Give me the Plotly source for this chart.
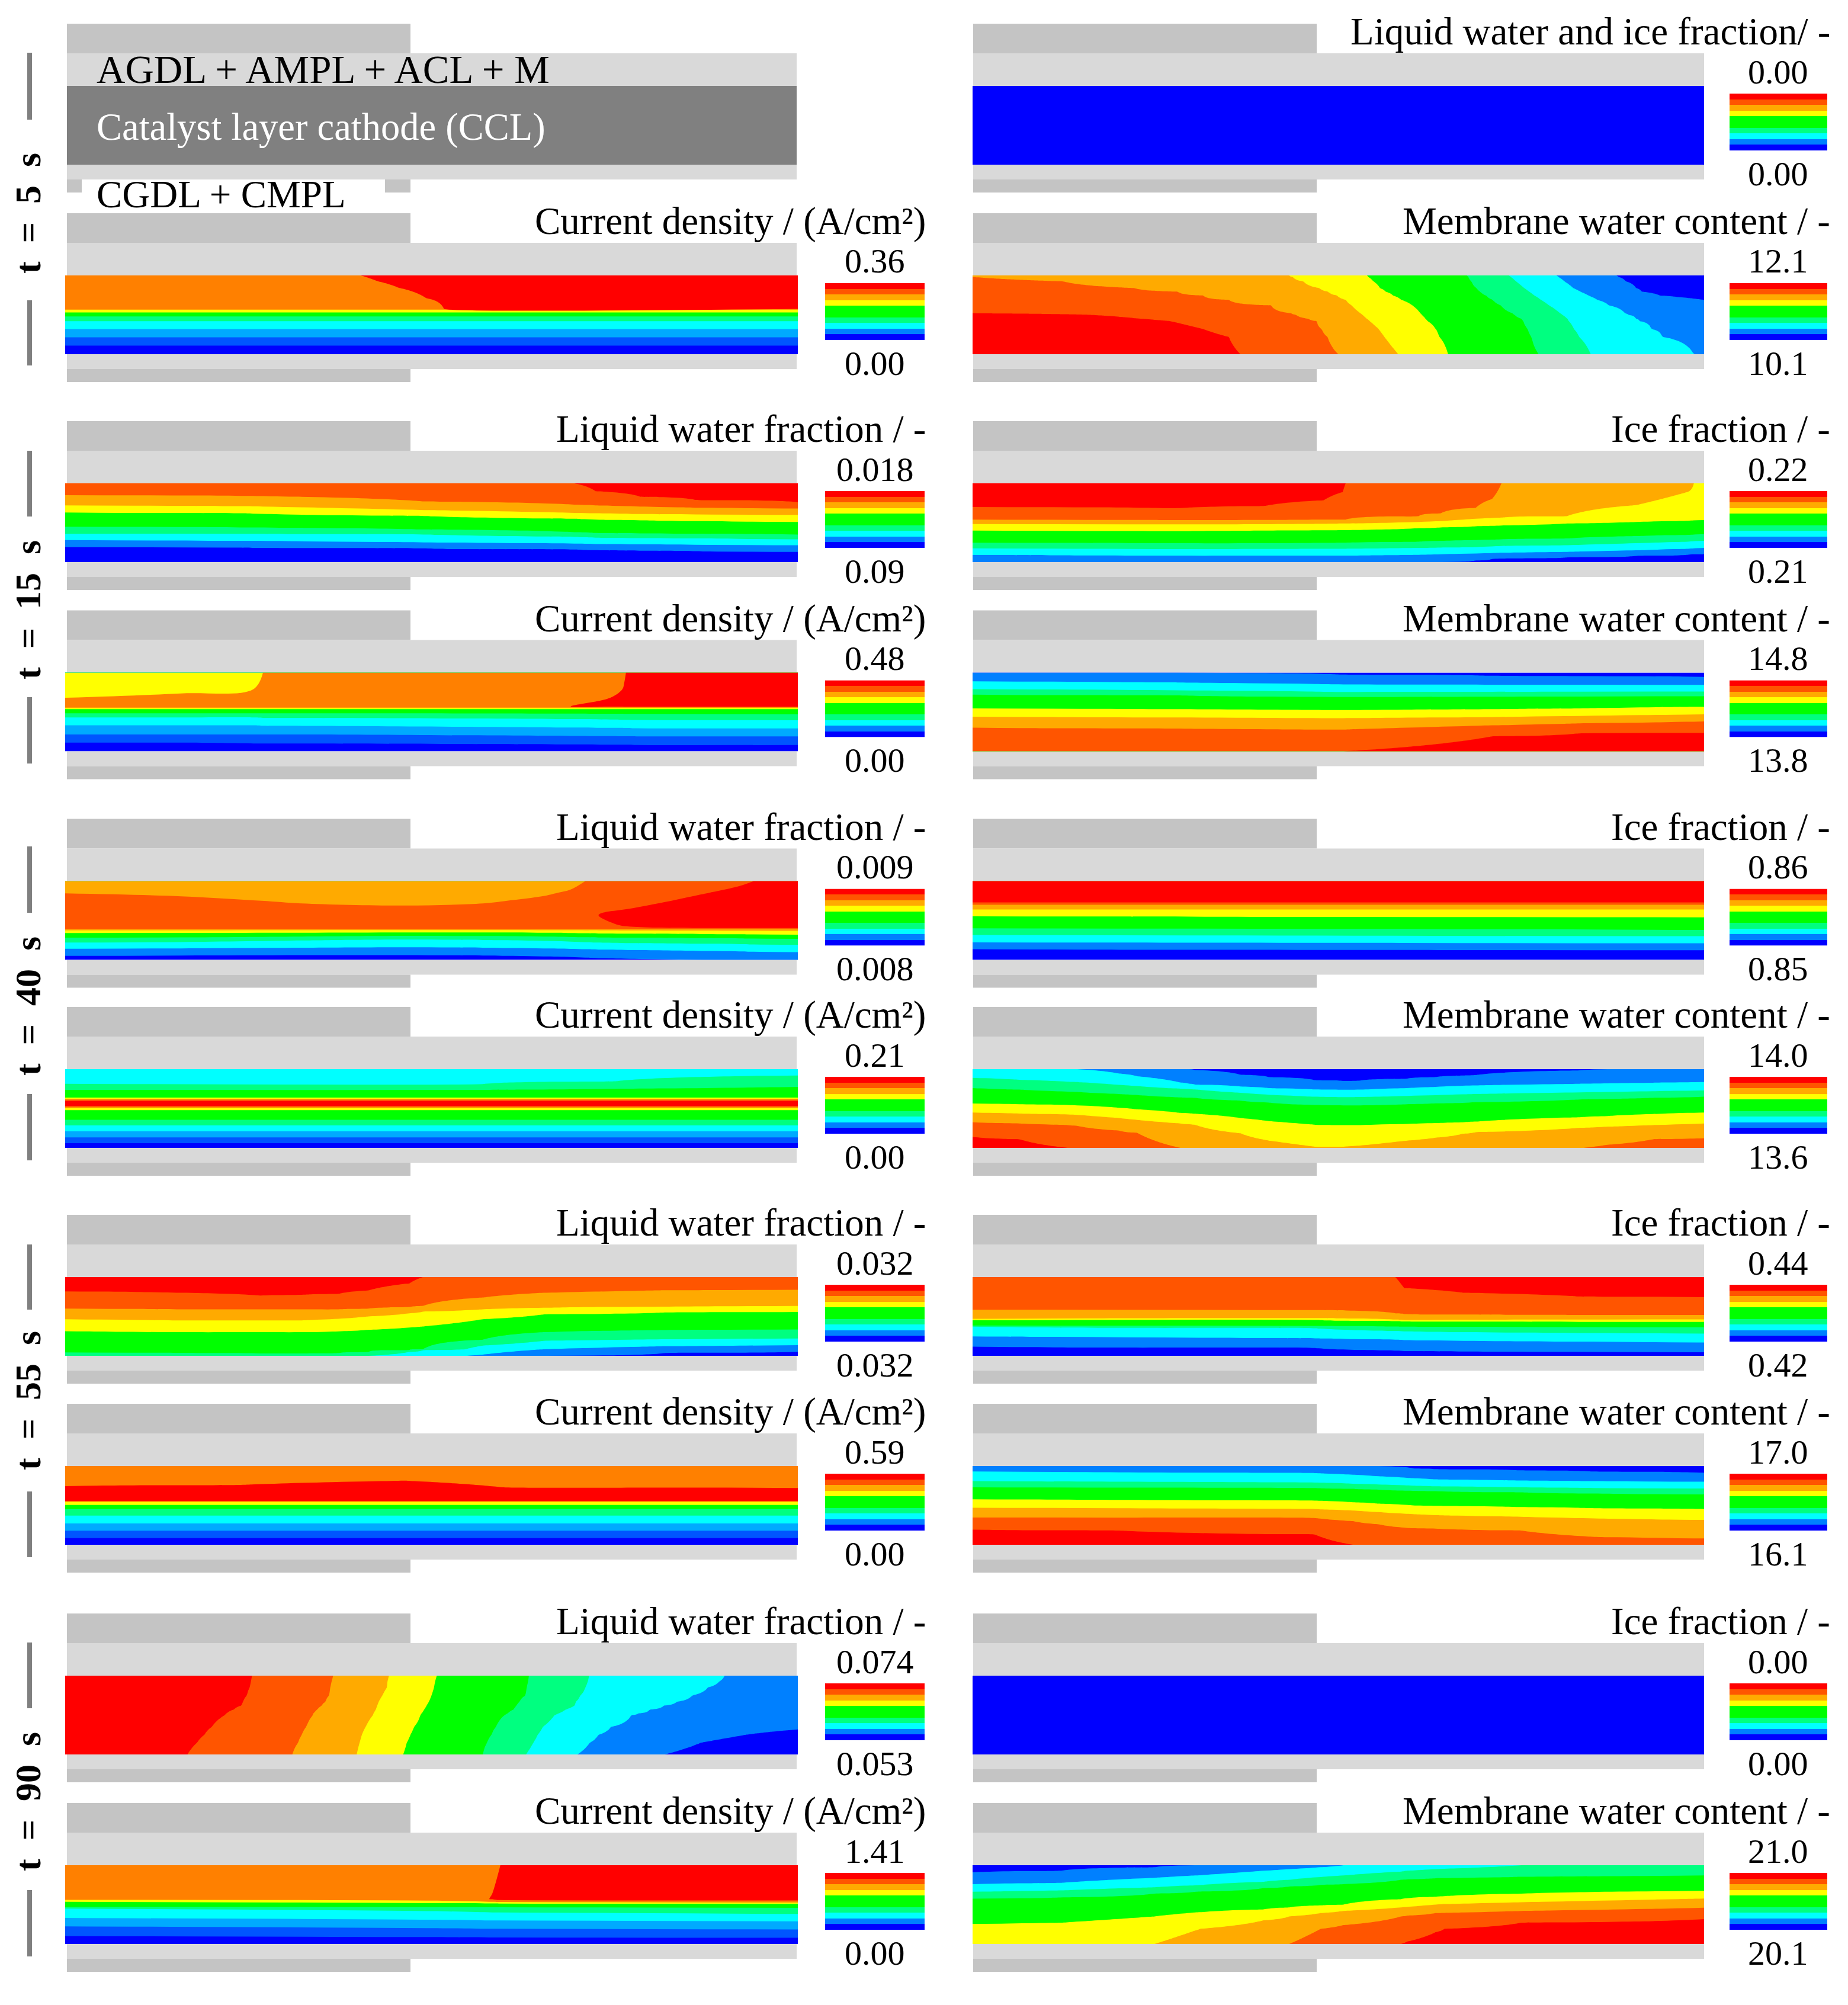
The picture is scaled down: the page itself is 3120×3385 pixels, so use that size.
import numpy as np
import plotly.graph_objects as go

WIDTH, HEIGHT = 3120, 3385
SERIF = "Liberation Serif"

# ---- band colours (bottom to top of each field) ----
BANDS_CURRENT = ["#0000ff", "#0055ff", "#00aaff", "#00ffff", "#00ff80", "#00ff00", "#ffff00", "#ff8000", "#ff0000"]
BANDS_OTHER = ["#0000ff", "#0080ff", "#00ffff", "#00ff80", "#00ff00", "#ffff00", "#ffaa00", "#ff5500", "#ff0000"]
LEGEND_BANDS = [0.5, 1.5, 2.5, 3.5, 4.5, 4.5, 5.5, 6.5, 7.5, 8.5]

# ---- text ----
TIMES = ["t  =  5  s", "t  =  15  s", "t  =  40  s", "t  =  55  s", "t  =  90  s"]
T_LWF = "Liquid water fraction / -"
T_ICE = "Ice fraction / -"
T_CD = "Current density / (A/cm\u00b2)"
T_MEM = "Membrane water content / -"
T_LWI = "Liquid water and ice fraction/ -"

# ---- field readings: x stations in % of length, level contours as depth in % of height ----
LEV_DOWN = [8, 7, 6, 5, 4, 3, 2, 1]
LEV_UP = [1, 2, 3, 4, 5, 6, 7, 8]

blue_x = [0, 100]
blue_y = [0, 100]
blue_z = [[0.5, 0.5], [0.5, 0.5]]

t5_cd_x = [0, 40, 42.7, 45.5, 49.3, 51.7, 100]
t5_cd_depth = [[-8, -1, 7.5, 15.7, 29, 42.5, 42.5], 43.5, 47, 52, 58, 68, 78.5, 89]

# rows in depth %, contours as x % across each row
t5_mem_y = [0, 2, 7.5, 16, 20.6, 25.5, 31, 38, 48, 50, 55, 58, 68, 78, 100]
t5_mem_cross = [
    [-60, -60, -60, -60, -60, -60, -60, -40, 0, 16, 23, 27, 31.5, 35, 36.6],
    [-6, 0, 12.3, 22, 28, 31.5, 35, 40.8, 43.6, 44.2, 45.9, 47, 47.7, 48.5, 50],
    [43.3, 43.8, 45.2, 47.4, 48.6, 49.8, 51, 51.8, 53, 53.3, 53.9, 54.3, 55.5, 56.3, 58.2],
    [53.9, 54.1, 54.8, 55.7, 56.5, 57.5, 58.6, 60.1, 61.2, 61.4, 61.9, 62.2, 63.3, 63.8, 65],
    [67.6, 67.8, 68.2, 68.9, 69.4, 70.2, 71.1, 72.2, 73.8, 74.1, 75, 75.3, 75.9, 76.4, 77.4],
    [73.3, 73.6, 74.3, 75.4, 76.1, 76.8, 77.7, 78.8, 80.3, 80.6, 81.3, 81.5, 82.2, 82.9, 84.5],
    [79.8, 80.1, 80.9, 82.1, 83.1, 84.2, 85.4, 87, 89.2, 89.6, 90.7, 91.2, 92.8, 94.3, 98.6],
    [88, 88.3, 89.3, 90.7, 91.5, 94, 100, 108, 125, 128, 130, 132, 135, 140, 150],
]

t15_lwf_x = [0, 24, 49, 69.5, 72.4, 78.5, 86, 100]
t15_lwf_depth = [
    [-15, -15, -10, 0, 10, 17, 21, 24],
    [15, 16, 23, 27, 28, 29.5, 31, 32],
    [28, 29, 34, 37.5, 38, 39, 39.5, 40],
    [37, 38, 41.5, 45, 46, 47, 48, 49],
    [55, 56, 58.5, 62, 63, 63.5, 64, 65],
    [64, 64, 65, 68, 69, 69.5, 70, 71],
    [72, 73, 75, 76.5, 77, 77.5, 78, 78.5],
    [81, 81.5, 82.5, 84, 84.6, 85.5, 86, 87],
]

t15_ice_x = [0, 28, 40, 48, 50.6, 51, 61, 64, 68.8, 71, 72.3, 81.3, 90.7, 97.8, 98.6, 100]
t15_ice_depth = [
    [30, 31.7, 28.6, 21.5, 11, 0, -10, -10, -10, -10, -10, -10, -10, -10, -10, -10],
    [46, 46.8, 46.5, 46.2, 46, 46, 41.5, 38, 31, 20, 0, -5, -5, -5, -5, -5],
    [51.7, 52, 51.8, 51.3, 51, 51, 49, 48, 45, 44, 43.5, 41.5, 27.7, 10.8, 0, -3],
    [60, 60.6, 60, 59.6, 59.4, 59.4, 57, 56, 54.5, 54, 53.5, 51, 49, 47.5, 47, 46.8],
    [75.4, 76, 76, 75.6, 75.4, 75.4, 74, 73, 72, 71.5, 71, 70, 67, 65.5, 65, 64.6],
    [82.5, 83.4, 83.2, 83, 83, 83, 82, 81.5, 81, 80, 79.5, 78.5, 76, 74, 73.5, 73],
    [90.8, 91.7, 91.7, 91.7, 91.7, 91.7, 90.8, 90, 89, 88.5, 88, 87, 85, 83, 82.5, 82],
    [110, 110, 110, 110, 110, 110, 103, 100, 98, 96, 95.5, 94, 92, 90.5, 90, 90],
]

t15_cd_x = [0, 15.8, 25.7, 27, 30, 69, 74.4, 76.3, 78, 100]
t15_cd_y = [0, 21, 32, 43, 44.5, 46.5, 51.7, 57, 67, 78.5, 89, 100]
t15_cd_z = [
    [6.5, 6.7, 6.95, 7.0, 7.3, 7.6, 7.75, 7.95, 8.3, 8.5],
    [6.5, 6.8, 7.0, 7.1, 7.3, 7.6, 7.8, 8.03, 8.3, 8.5],
    [7.0, 7.2, 7.3, 7.3, 7.4, 7.7, 8.0, 8.2, 8.3, 8.5],
    [7.5, 7.5, 7.5, 7.5, 7.5, 8.0, 8.2, 8.3, 8.3, 8.4],
    [7.0] * 10,
    [6.0] * 10,
    [5, 5, 5, 5, 5, 5.05, 5.1, 5.1, 5.1, 5.2],
    [4, 4, 4, 4.05, 4.05, 4.2, 4.25, 4.3, 4.3, 4.33],
    [3, 3, 3, 3.05, 3.05, 3.25, 3.3, 3.3, 3.35, 3.37],
    [2, 2, 2, 2, 2, 2.2, 2.22, 2.25, 2.25, 2.27],
    [1, 1, 1.05, 1.05, 1.05, 1.12, 1.15, 1.15, 1.18, 1.18],
    [0.5] * 10,
]

t15_mem_x = [0, 28, 50.7, 71, 83, 100]
t15_mem_depth = [
    [-3, 0, 2.5, 4, 4.5, 5.5],
    [11, 12.6, 15, 15.4, 15.5, 15.7],
    [21, 22.5, 24.6, 24.4, 24.2, 24],
    [28, 29, 31, 30.6, 30.3, 30],
    [45.5, 46.5, 47.7, 46.5, 45.5, 43.4],
    [56, 57, 57.8, 56.5, 55, 53],
    [70, 71, 72.3, 67, 64.5, 62],
    [115, 112, 100, 81, 77, 76.3],
]

t40_lwf_x = [0, 15.8, 32.3, 46.4, 57, 65.3, 69, 71, 72.8, 77.7, 86.8, 92, 94, 100]
t40_lwf_y = [0, 15, 25, 35, 43, 55, 59.5, 61, 62.5, 66, 71, 75, 85, 95, 100]
t40_lwf_z = [
    [6.5, 6.5, 6.5, 6.5, 6.5, 6.6, 6.75, 7.0, 7.1, 7.3, 7.6, 7.85, 8.0, 8.3],
    [6.98, 6.85, 6.7, 6.65, 6.7, 6.9, 7.1, 7.25, 7.3, 7.5, 7.95, 8.2, 8.3, 8.4],
    [7.3, 7.2, 6.9, 6.85, 6.9, 7.15, 7.3, 7.4, 7.5, 7.75, 8.2, 8.4, 8.5, 8.5],
    [7.4, 7.4, 7.2, 7.1, 7.2, 7.35, 7.5, 7.6, 7.7, 8.03, 8.4, 8.5, 8.5, 8.5],
    [7.5, 7.5, 7.4, 7.4, 7.45, 7.5, 7.6, 7.75, 8.0, 8.2, 8.5, 8.5, 8.5, 8.5],
    [7.6, 7.6, 7.6, 7.6, 7.6, 7.7, 7.8, 7.9, 7.9, 8.1, 8.4, 8.4, 8.4, 8.4],
    [7.6, 7.6, 7.6, 7.6, 7.6, 7.7, 7.8, 7.85, 7.9, 7.95, 8.0, 8.05, 8.05, 8.1],
    [7.0] * 14,
    [6, 6, 5.9, 5.8, 5.8, 5.9, 5.95, 6, 6, 6.05, 6.1, 6.15, 6.15, 6.2],
    [5, 4.95, 4.9, 4.8, 4.8, 4.9, 5, 5.05, 5.1, 5.15, 5.25, 5.3, 5.35, 5.4],
    [4.17, 4.1, 3.9, 3.7, 3.75, 3.9, 4, 4.05, 4.1, 4.15, 4.25, 4.3, 4.35, 4.4],
    [3.4, 3.3, 3.05, 2.86, 2.95, 3.1, 3.2, 3.3, 3.35, 3.45, 3.55, 3.6, 3.65, 3.7],
    [2.11, 2.05, 1.95, 1.9, 1.95, 2.05, 2.1, 2.15, 2.2, 2.25, 2.35, 2.4, 2.45, 2.5],
    [1, 0.95, 0.9, 0.9, 0.95, 1.05, 1.1, 1.15, 1.2, 1.3, 1.4, 1.45, 1.5, 1.55],
    [0.6, 0.6, 0.55, 0.55, 0.6, 0.7, 0.75, 0.8, 0.85, 0.9, 1, 1.05, 1.05, 1.1],
]

t40_ice_x = [0, 100]
t40_ice_depth = [27, 30, 36, [44.7, 46], [60, 62], [68.5, 70], [77.8, 79], [86.4, 87.6]]

t40_cd_x = [0, 57, 75, 100]
t40_cd_levels = [4, 5, 6, 7, 8, 8.5, 8, 7, 6, 5, 4, 3, 2, 1]
t40_cd_depth = [[18.9, 19, 15.5, 8], [26.3, 26.3, 25, 22.6], 36, 38, 40, 43.7, 47.4, 49, 52, 64.4, 71.5, 79, 86.7, 93.8]

t40_mem_x = [0, 6.4, 13, 14.3, 20, 22.5, 28.4, 29.6, 30.4, 36.6, 40.5, 46.8, 50.7, 53, 59.4, 63.3, 67, 68.8, 83, 86.8, 93, 100]
t40_mem_depth = [
    [-30, -30, -30, -30, -25, -20, -3, 0, 1, 7, 10, 14, 15, 14.5, 12, 10, 8.3, 7.5, 1.5, 0, -2, -3],
    [-10, -6, -1, 0, 5.6, 9, 17, 18.5, 19.5, 22, 24, 25.7, 26.2, 26, 24, 22.5, 21, 20.7, 18.6, 18, 17.3, 16.4],
    [11, 13.5, 16, 16.4, 20, 21.5, 24.8, 25.3, 25.7, 30, 32.5, 35, 35.6, 35.4, 34, 33, 32, 31.6, 29.5, 29, 28, 27],
    [24, 26, 28.5, 29, 31.5, 32.8, 35.8, 36.2, 36.5, 40, 42.5, 45.5, 46, 46, 44.5, 43.5, 42.7, 42, 38.5, 37.7, 36.3, 35],
    [43.6, 44.5, 45.5, 46, 49, 51, 55.5, 56, 56.7, 62, 66, 70.6, 71, 71, 69.5, 68.5, 67.5, 66.7, 61, 59.5, 57, 55],
    [55, 56.3, 57.5, 58, 62, 64.5, 69, 70, 70.6, 81.4, 90.7, 98.5, 98.5, 97, 90.7, 87, 82, 80, 74.5, 73, 71, 69],
    [67.5, 69, 71, 72, 78, 80.8, 100, 105, 108, 120, 120, 120, 120, 120, 120, 120, 118, 115, 100.5, 96, 89, 87.6],
    [86, 89, 100, 103, 125, 130, 130, 130, 130, 130, 130, 130, 130, 130, 130, 130, 130, 130, 130, 130, 130, 130],
]

t55_lwf_x = [0, 15.8, 26.6, 32.3, 37.3, 41.4, 47, 48.8, 57, 65.3, 82, 100]
t55_lwf_depth = [
    [18.3, 20, 23.5, 22.5, 21.4, 17, 8, 0, -5, -5, -5, -5],
    [40, 41, 41, 41, 41, 40, 38, 36.7, 26, 20, 16.8, 16.2],
    [53.5, 55, 55, 55, 53, 50, 46, 44, 41, 39, 37.6, 36.7],
    [68.8, 70, 70, 70, 69, 67, 64, 62.7, 53.5, 47.4, 45, 44.3],
    [95.7, 96.3, 97, 97, 96.5, 95, 92.5, 91.7, 79.5, 70, 67.3, 66.7],
    [104, 104, 104, 103, 102, 100, 95, 93, 87, 81, 79, 78],
    [125, 125, 125, 120, 118, 115, 106, 104, 98.5, 91.7, 87.8, 86.5],
    [140, 140, 140, 140, 140, 140, 130, 125, 110, 100, 96.3, 94.8],
]

t55_ice_x = [0, 46.8, 57.8, 59, 67.2, 82.9, 100]
t55_ice_depth = [
    [-5, -5, 0, 14, 20, 24.6, 25.5],
    [41.5, 42, 46, 47, 47.8, 48.3, 48.3],
    [53, 52.3, 54, 54.5, 54.3, 54, 53.8],
    [54.8, 54.5, 56, 56.3, 56.5, 56.8, 57],
    [61.5, 62, 62.8, 63, 63.2, 63.5, 63.7],
    [63, 65, 68.5, 69, 70, 71, 71.7],
    [75.4, 77.8, 79.5, 80, 81, 82, 83],
    [88.3, 90, 93.2, 93.8, 94.5, 95, 95.4],
]

t55_cd_x = [0, 24, 46.4, 59.6, 100]
t55_cd_levels = [8, 8.5, 8, 7, 6, 5, 4, 3, 2, 1]
t55_cd_depth = [[25.5, 24, 18.7, 27, 28], 35, 44.5, 45.4, 49.4, 54.6, 63, 73, 82.2, 91.4]

t55_mem_x = [0, 20, 46.8, 52, 55.5, 60.2, 63.3, 75, 85, 100]
t55_mem_depth = [
    [-8, -8, -3, -1, 0, 3, 4, 5.5, 7, 8.6],
    [7, 8, 9, 11, 13, 15.5, 17, 18.5, 19.3, 20],
    [19.3, 20, 21, 22.5, 23.5, 25, 25.8, 27, 28, 28.5],
    [27, 27.5, 28, 29, 30, 31.5, 32, 33.5, 35, 36],
    [42.3, 43, 44, 46, 47.8, 50, 50.6, 52, 53.5, 54.6],
    [53, 53.5, 54.6, 56.5, 58.5, 61, 62.3, 64.5, 66.5, 68.4],
    [65.3, 65.5, 66, 70, 74, 79, 79.5, 82, 90, 92],
    [80.7, 82, 87, 100, 110, 120, 120, 120, 120, 120],
]

# rows in depth %, contours as x % across each row
t90_lwf_y = [0, 7, 15, 25, 33, 38, 43, 48, 50, 65, 75, 85, 100]
t90_lwf_cross = [
    [25.5, 25.4, 25.2, 24.8, 24.3, 24, 23, 22, 21.8, 20, 19, 18, 16.7],
    [36.6, 36.4, 36.2, 36, 35.5, 35, 34.4, 33.9, 33.8, 32.9, 32.3, 31.8, 31],
    [44.2, 44, 43.9, 43.3, 42.8, 42.6, 42.4, 42.1, 42, 41, 40.5, 40.2, 39.8],
    [50.7, 50.5, 50.3, 50, 49.6, 49.3, 49, 48.6, 48.5, 47.6, 47.1, 46.6, 46.1],
    [63.3, 63.2, 63, 62.8, 62, 61.6, 61.2, 60.4, 60, 58.8, 58.2, 57.6, 57],
    [71.5, 71.3, 71, 70.3, 69.7, 69.5, 68.3, 67.3, 66.8, 65.2, 64.5, 63.9, 62.9],
    [90, 89.3, 87.7, 85.6, 83.5, 81.7, 79.8, 78.2, 77.3, 74.5, 72.8, 71.6, 69.9],
    [130, 130, 130, 130, 130, 130, 130, 125, 120, 105, 92.9, 86.8, 81.8],
]

t90_cd_x = [0, 50, 58.3, 59.4, 100]
t90_cd_y = [0, 43, 44, 46.5, 49, 53, 55, 67, 77.6, 90, 100]
t90_cd_z = [
    [7.5, 7.6, 7.9, 8.0, 8.5],
    [7.5, 7.6, 8.02, 8.2, 8.5],
    [7.0, 7.3, 7.9, 8.1, 8.2],
    [6, 6.5, 7, 7.1, 7.5],
    [5.6, 5.7, 5.8, 5.85, 6],
    [5, 5.05, 5.1, 5.1, 5.2],
    [4, 4.3, 4.5, 4.5, 4.83],
    [3, 3.2, 3.3, 3.3, 3.39],
    [2, 2.2, 2.3, 2.3, 2.4],
    [1, 1.07, 1.1, 1.1, 1.14],
    [0.5] * 5,
]

t90_mem_x = [0, 12, 24.9, 30.4, 31.1, 39.8, 43.3, 47.6, 50.7, 58.6, 59.4, 63.3, 64.5, 75, 100]
t90_mem_depth = [
    [9, 7, 2.5, 0, -1, -5, -5, -5, -5, -5, -5, -5, -5, -5, -5],
    [24, 22.4, 16, 13, 12.7, 7, 5, 2.5, 0, -3, -4, -5, -5, -5, -5],
    [33.7, 32, 28, 25.5, 25.2, 21, 18.5, 15, 13, 8, 7, 5, 4.5, 0, -3],
    [42.3, 41, 36, 33.7, 33.4, 29, 27, 25, 24, 18.5, 18, 16.5, 16.3, 14.7, 13],
    [74.5, 73, 65, 60, 59.7, 56, 53.5, 51, 50, 43, 42, 40, 39.3, 36, 32.5],
    [120, 115, 100, 83, 80.7, 70, 65, 60.7, 58, 53.5, 53, 50, 49.3, 47, 42.3],
    [160, 150, 135, 120, 118, 108, 100, 80.7, 76, 65, 64, 60.7, 60.5, 58, 54],
    [200, 190, 170, 160, 155, 140, 130, 120, 110, 100, 97, 85, 80.7, 73, 68.4],
]

DEPTH_GRID = np.arange(0, 100.25, 0.5)
LENGTH_GRID = np.arange(0, 100.1, 0.25)


def levels_to_line(grid, positions, levels, reach):
    """z along one grid line from the positions at which the level contours cross it."""
    top = levels[0] + 0.5 * np.sign(levels[0] - levels[1])
    bottom = levels[-1] + 0.5 * np.sign(levels[-1] - levels[-2])
    d = np.maximum.accumulate(positions) + 1e-3 * np.arange(len(levels))
    d = np.concatenate([[d[0] - reach], d, [d[-1] + reach]])
    return np.interp(grid, d, [top] + list(levels) + [bottom])


def from_depths(x, levels, depth):
    nx = len(x)
    table = np.array([np.full(nx, float(d)) if np.isscalar(d) else np.array(d, float) for d in depth])
    z = np.column_stack([levels_to_line(DEPTH_GRID, table[:, j], levels, 25) for j in range(nx)])
    return x, DEPTH_GRID, z


def from_crossings(y, levels, cross):
    table = np.array(cross, float)
    z = np.vstack([levels_to_line(LENGTH_GRID, table[:, i], levels, 10) for i in range(len(y))])
    return LENGTH_GRID, y, z


def step_scale(colours):
    n = len(colours)
    out = []
    for i, c in enumerate(colours):
        out += [[i / n, c], [(i + 1) / n, c]]
    return out


# ---- layout of the page, in pixels ----
ROW_TOPS = [145, 465, 816, 1135.5, 1487.5, 1805, 2156, 2475, 2829, 3149]
PANEL_H = 133
COLS = [
    dict(l=110, r=1347, gl=113, gr=1345, dark_r=693, leg_l=1393, leg_r=1561, leg_c=1477, title_r=1563),
    dict(l=1642, r=2877, gl=1643, gr=2877, dark_r=2223, leg_l=2920, leg_r=3085, leg_c=3002, title_r=3090),
]
TIME_Y = [360, 1030, 1699, 2365, 3042]
TIME_BARS = [(89, 202, 507, 617), (761, 872, 1177, 1289), (1429, 1541, 1847, 1959), (2101, 2211, 2518, 2629), (2773, 2884, 3191, 3303)]
C_DARK, C_LIGHT, C_MID = "#c4c4c4", "#d9d9d9", "#808080"

# row, col, title, max label, min label, band colours, field
PANELS = [
    (0, 1, T_LWI, "0.00", "0.00", BANDS_OTHER, (blue_x, blue_y, blue_z)),
    (1, 0, T_CD, "0.36", "0.00", BANDS_CURRENT, from_depths(t5_cd_x, LEV_DOWN, t5_cd_depth)),
    (1, 1, T_MEM, "12.1", "10.1", BANDS_OTHER, from_crossings(t5_mem_y, LEV_DOWN, t5_mem_cross)),
    (2, 0, T_LWF, "0.018", "0.09", BANDS_OTHER, from_depths(t15_lwf_x, LEV_DOWN, t15_lwf_depth)),
    (2, 1, T_ICE, "0.22", "0.21", BANDS_OTHER, from_depths(t15_ice_x, LEV_DOWN, t15_ice_depth)),
    (3, 0, T_CD, "0.48", "0.00", BANDS_CURRENT, (t15_cd_x, t15_cd_y, t15_cd_z)),
    (3, 1, T_MEM, "14.8", "13.8", BANDS_OTHER, from_depths(t15_mem_x, LEV_UP, t15_mem_depth)),
    (4, 0, T_LWF, "0.009", "0.008", BANDS_OTHER, (t40_lwf_x, t40_lwf_y, t40_lwf_z)),
    (4, 1, T_ICE, "0.86", "0.85", BANDS_OTHER, from_depths(t40_ice_x, LEV_DOWN, t40_ice_depth)),
    (5, 0, T_CD, "0.21", "0.00", BANDS_CURRENT, from_depths(t40_cd_x, t40_cd_levels, t40_cd_depth)),
    (5, 1, T_MEM, "14.0", "13.6", BANDS_OTHER, from_depths(t40_mem_x, LEV_UP, t40_mem_depth)),
    (6, 0, T_LWF, "0.032", "0.032", BANDS_OTHER, from_depths(t55_lwf_x, LEV_DOWN, t55_lwf_depth)),
    (6, 1, T_ICE, "0.44", "0.42", BANDS_OTHER, from_depths(t55_ice_x, LEV_DOWN, t55_ice_depth)),
    (7, 0, T_CD, "0.59", "0.00", BANDS_CURRENT, from_depths(t55_cd_x, t55_cd_levels, t55_cd_depth)),
    (7, 1, T_MEM, "17.0", "16.1", BANDS_OTHER, from_depths(t55_mem_x, LEV_UP, t55_mem_depth)),
    (8, 0, T_LWF, "0.074", "0.053", BANDS_OTHER, from_crossings(t90_lwf_y, LEV_DOWN, t90_lwf_cross)),
    (8, 1, T_ICE, "0.00", "0.00", BANDS_OTHER, (blue_x, blue_y, blue_z)),
    (9, 0, T_CD, "1.41", "0.00", BANDS_CURRENT, (t90_cd_x, t90_cd_y, t90_cd_z)),
    (9, 1, T_MEM, "21.0", "20.1", BANDS_OTHER, from_depths(t90_mem_x, LEV_UP, t90_mem_depth)),
]


def px(x):
    return x / WIDTH


def py(y):
    return 1 - y / HEIGHT


def rect(x0, y0, x1, y1, colour):
    return dict(type="rect", xref="paper", yref="paper", x0=px(x0), x1=px(x1), y0=py(y1), y1=py(y0),
                fillcolor=colour, line=dict(width=0), layer="below")


def label(x, y, text, size, colour="black", anchor="center", angle=0, weight="normal"):
    return dict(xref="paper", yref="paper", x=px(x), y=py(y), text=text,
                showarrow=False, xanchor=anchor, yanchor="middle", textangle=angle,
                font=dict(family=SERIF, size=size, color=colour, weight=weight), borderpad=0, borderwidth=0)


fig = go.Figure()
shapes, annotations, axes = [], [], {}

# grey layer blocks behind every panel
for row, top in enumerate(ROW_TOPS):
    bot = top + PANEL_H
    for ci, c in enumerate(COLS):
        shapes.append(rect(c["gl"], top - 105, c["dark_r"], top - 55, C_DARK))
        shapes.append(rect(c["gl"], top - 55, c["gr"], top, C_LIGHT))
        shapes.append(rect(c["gl"], bot, c["gr"], bot + 25, C_LIGHT))
        if row == 0 and ci == 0:
            shapes.append(rect(c["gl"], bot + 25, 138, bot + 47, C_DARK))
            shapes.append(rect(650, bot + 25, c["dark_r"], bot + 47, C_DARK))
        else:
            shapes.append(rect(c["gl"], bot + 25, c["dark_r"], bot + 47, C_DARK))

# schematic in the first panel
shapes.append(rect(COLS[0]["gl"], ROW_TOPS[0], COLS[0]["gr"], ROW_TOPS[0] + PANEL_H, C_MID))
annotations.append(label(163, 117, "AGDL + AMPL + ACL + M", 67, anchor="left"))
annotations.append(label(163, 214, "Catalyst layer cathode (CCL)", 64.5, colour="white", anchor="left"))
annotations.append(label(163, 328, "CGDL + CMPL", 65, anchor="left"))

# time labels and their bars
for text, y, bars in zip(TIMES, TIME_Y, TIME_BARS):
    annotations.append(label(47, y, text.replace(" ", "\u00a0"), 62, angle=-90, weight="bold"))
    shapes.append(rect(46, bars[0], 54, bars[1], C_MID))
    shapes.append(rect(46, bars[2], 54, bars[3], C_MID))

# fields and their colour legends
n = 1
for row, ci, title, vmax, vmin, colours, (fx, fy, fz) in PANELS:
    c = COLS[ci]
    top = ROW_TOPS[row]
    bot = top + PANEL_H
    xa, ya = ("x", "y") if n == 1 else (f"x{n}", f"y{n}")
    axes[f"xaxis{'' if n == 1 else n}"] = dict(domain=[px(c["l"]), px(c["r"])], range=[0, 100], visible=False, anchor=ya)
    axes[f"yaxis{'' if n == 1 else n}"] = dict(domain=[py(bot), py(top)], range=[100, 0], visible=False, anchor=xa)
    fig.add_trace(go.Contour(
        x=np.asarray(fx).tolist(), y=np.asarray(fy).tolist(), z=np.asarray(fz).tolist(), xaxis=xa, yaxis=ya,
        colorscale=step_scale(colours), zmin=0, zmax=9, showscale=False, hoverinfo="skip",
        contours=dict(type="levels", start=1, end=8, size=1, coloring="fill", showlines=False),
        line=dict(width=0),
    ))
    n += 1
    xa, ya = f"x{n}", f"y{n}"
    axes[f"xaxis{n}"] = dict(domain=[px(c["leg_l"]), px(c["leg_r"])], range=[-0.5, 0.5], visible=False, anchor=ya)
    axes[f"yaxis{n}"] = dict(domain=[py(top + 109), py(top + 13)], range=[-0.5, 9.5], visible=False, anchor=xa)
    fig.add_trace(go.Heatmap(
        z=[[v] for v in LEGEND_BANDS], xaxis=xa, yaxis=ya, colorscale=step_scale(BANDS_OTHER),
        zmin=0, zmax=9, showscale=False, hoverinfo="skip",
    ))
    n += 1
    annotations.append(label(c["title_r"], top - 92, title, 65, anchor="right"))
    annotations.append(label(c["leg_c"], top - 24, vmax, 58))
    annotations.append(label(c["leg_c"], bot + 15, vmin, 58))

fig.update_layout(
    width=WIDTH, height=HEIGHT, margin=dict(l=0, r=0, t=0, b=0, pad=0),
    paper_bgcolor="white", plot_bgcolor="rgba(0,0,0,0)", showlegend=False,
    shapes=shapes, annotations=annotations, **axes,
)
fig.write_html("out.html", post_script="document.body.style.margin='0';", config=dict(displayModeBar=False))
